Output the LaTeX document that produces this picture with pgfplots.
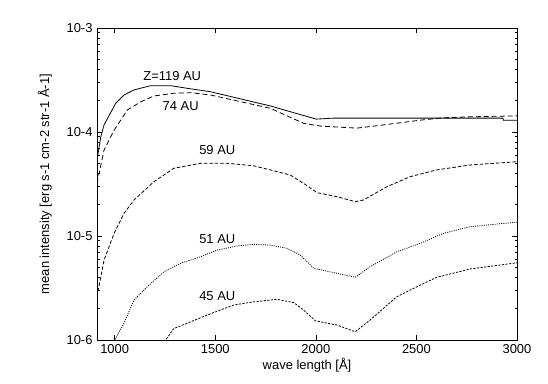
\documentclass[border=0pt]{standalone}
\usepackage{fontspec}
\setmainfont{Liberation Sans}
\usepackage{pgfplots}
\pgfplotsset{compat=1.18}
\begin{document}
\begin{tikzpicture}[font=\fontsize{13}{15}\selectfont]
\path[use as bounding box] (0,0) rectangle (548bp,384bp);
\begin{axis}[
  at={(97bp,44bp)}, anchor=south west,
  width=420bp, height=312bp, scale only axis,
  xmin=912, xmax=3000,
  ymode=log, ymin=1e-6, ymax=1e-3,
  xtick={1000,1500,2000,2500,3000},
  ytick={1e-6,1e-5,1e-4,1e-3},
  yticklabels={10-6,10-5,10-4,10-3},
  /pgf/number format/1000 sep={},
  /pgf/number format/assume math mode=true,
  tick align=inside, tick pos=both,
  major tick length=5bp, minor tick length=2.5bp,
  axis line style={line width=0.9pt},
  every tick/.style={black, line width=0.7pt},
  tick label style={font=\fontsize{13}{15}\selectfont},
  xticklabel style={yshift=-1bp},
  yticklabel style={xshift=-1bp},
  xlabel={wave length [Å]},
  ylabel={mean intensity [erg s-1 cm-2 str-1 Å-1]},
  every axis x label/.style={at={(axis description cs:0.5,-0.096)}, anchor=base, font=\fontsize{13}{15}\selectfont},
  every axis y label/.style={at={(axis description cs:-0.124,0.5)}, anchor=center, rotate=90, font=\fontsize{13}{15}\selectfont},
  clip=true,
]
% Z = 119 AU
\addplot[black, line width=0.8pt] coordinates {
(912,5.38e-5) (931,9.02e-5) (947,1.17e-4) (1005,1.89e-4) (1046,2.27e-4)
(1096,2.54e-4) (1179,2.79e-4) (1278,2.79e-4) (1361,2.63e-4) (1476,2.44e-4)
(1774,1.78e-4) (2002,1.33e-4) (2087,1.36e-4) (2930,1.36e-4) (2932,1.30e-4) (3000,1.30e-4)
};
% 74 AU
\addplot[black, line width=0.8pt, dash pattern=on 5pt off 3pt] coordinates {
(912,3.21e-5) (947,6.71e-5) (997,1.04e-4) (1063,1.63e-4) (1129,1.95e-4)
(1195,2.22e-4) (1294,2.36e-4) (1377,2.39e-4) (1476,2.27e-4) (1774,1.69e-4)
(1940,1.21e-4) (2022,1.14e-4) (2204,1.09e-4) (2337,1.17e-4) (2519,1.30e-4)
(2633,1.37e-4) (2767,1.40e-4) (3000,1.43e-4)
};
% 59 AU
\addplot[black, line width=0.8pt, dash pattern=on 3.5pt off 2pt] coordinates {
(912,2.61e-6) (947,5.87e-6) (997,1.06e-5) (1046,1.65e-5) (1096,2.22e-5)
(1195,3.33e-5) (1294,4.48e-5) (1427,5.00e-5) (1559,5.00e-5) (1690,4.74e-5)
(1774,4.32e-5) (1873,3.86e-5) (1939,3.21e-5) (2006,2.61e-5) (2105,2.39e-5)
(2196,2.14e-5) (2237,2.22e-5) (2353,2.98e-5) (2469,3.72e-5) (2601,4.32e-5)
(2767,4.82e-5) (3000,5.18e-5)
};
% 51 AU
\addplot[black, line width=0.8pt, dash pattern=on 1pt off 1.2pt] coordinates {
(985,8.5e-7) (1000,1.00e-6) (1046,1.45e-6) (1096,2.43e-6) (1162,3.25e-6) (1245,4.54e-6)
(1328,5.46e-6) (1427,6.32e-6) (1510,7.33e-6) (1609,8.02e-6) (1691,8.32e-6)
(1774,8.18e-6) (1857,7.62e-6) (1923,6.56e-6) (1989,4.89e-6) (2105,4.38e-6)
(2196,4.01e-6) (2270,5.07e-6) (2403,7.06e-6) (2519,8.51e-6) (2634,1.06e-5)
(2767,1.23e-5) (3000,1.36e-5)
};
% 45 AU
\addplot[black, line width=0.8pt, dash pattern=on 2.2pt off 1.4pt] coordinates {
(1235,9.0e-7) (1253,1.00e-6) (1294,1.29e-6) (1361,1.45e-6) (1460,1.74e-6) (1592,2.17e-6)
(1691,2.33e-6) (1807,2.46e-6) (1890,2.29e-6) (1939,1.94e-6) (1998,1.53e-6)
(2105,1.39e-6) (2196,1.20e-6) (2270,1.56e-6) (2403,2.61e-6) (2502,3.25e-6)
(2601,4.01e-6) (2767,4.82e-6) (3000,5.53e-6)
};
\node[font=\fontsize{13}{15}\selectfont] at (axis cs:1286,3.46e-4) {Z=119 AU};
\node[font=\fontsize{13}{15}\selectfont] at (axis cs:1328,1.78e-4) {74 AU};
\node[font=\fontsize{13}{15}\selectfont] at (axis cs:1510,6.71e-5) {59 AU};
\node[font=\fontsize{13}{15}\selectfont] at (axis cs:1510,9.29e-6) {51 AU};
\node[font=\fontsize{13}{15}\selectfont] at (axis cs:1510,2.65e-6) {45 AU};
\end{axis}
\end{tikzpicture}
\end{document}
